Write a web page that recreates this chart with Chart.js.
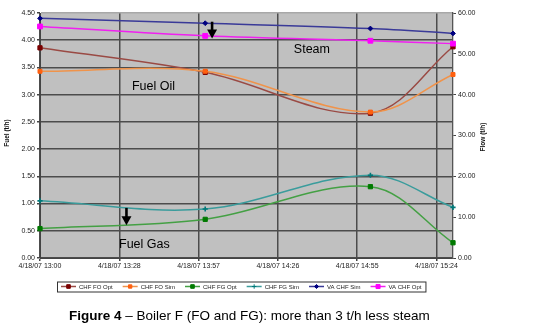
<!DOCTYPE html>
<html>
<head>
<meta charset="utf-8">
<script src="https://cdn.jsdelivr.net/npm/chart.js@4.4.1/dist/chart.umd.min.js"></script>
<style>
    html, body { margin: 0; padding: 0; background: #ffffff; }
    #chart-box { position: relative; width: 538px; height: 336px; }
</style>
</head>
<body>
<div id="chart-box">
    <canvas id="boilerChart" width="538" height="336"></canvas>
</div>
<script>
// ::::: Data read from the figure :::::
// x values are minutes after 4/18/07 13:00
const sampleMinutes = [0, 60, 120, 150];
const tickMinutes = [0, 28.8, 57.6, 86.4, 115.2, 144];
const tickLabels = ['4/18/07 13:00', '4/18/07 13:28', '4/18/07 13:57', '4/18/07 14:26', '4/18/07 14:55', '4/18/07 15:24'];
const seriesNames = ['CHF FO Opt', 'CHF FO Sim', 'CHF FG Opt', 'CHF FG Sim', 'VA CHF Sim', 'VA CHF Opt'];

// fuel (t/h), left axis
const chfFoOpt = [3.86, 3.41, 2.66, 3.88];
const chfFoSim = [3.43, 3.43, 2.68, 3.37];
const chfFgOpt = [0.54, 0.71, 1.31, 0.28];
const chfFgSim = [1.05, 0.90, 1.52, 0.93];
// steam flow (t/h), right axis
const vaChfSim = [58.7, 57.5, 56.2, 55.0];
const vaChfOpt = [56.7, 54.4, 53.2, 52.5];

const fuelMax = 4.5;
const flowMax = 60;

// ::::: Look of each series :::::
const seriesStyles = [
    { line: '#9a4a44', marker: '#7a0000', shape: 'rect', radius: 3, axis: 'y' },
    { line: '#f0934a', marker: '#ff6010', shape: 'rect', radius: 2.8, axis: 'y' },
    { line: '#44a044', marker: '#007a00', shape: 'rect', radius: 3, axis: 'y' },
    { line: '#3a9c9c', marker: '#007878', shape: 'cross', radius: 2.6, axis: 'y' },
    { line: '#3a3a98', marker: '#000080', shape: 'rectRot', radius: 2.4, axis: 'y1' },
    { line: '#f020f0', marker: '#ff00ff', shape: 'rect', radius: 3.4, axis: 'y1' }
];
const seriesValues = [chfFoOpt, chfFoSim, chfFgOpt, chfFgSim, vaChfSim, vaChfOpt];

// text and arrows placed in data coordinates
const labelNotes = [
    { text: 'Fuel Oil', minute: 33.4, value: 3.09, axis: 'y' },
    { text: 'Steam', minute: 92.2, value: 3.77, axis: 'y' },
    { text: 'Fuel Gas', minute: 28.7, value: 0.18, axis: 'y' }
];
const arrowNotes = [
    { minute: 62.5, from: 4.34, to: 4.03 },
    { minute: 31.4, from: 0.92, to: 0.60 }
];

function toPoints(values) {
    return values.map((v, i) => ({ x: sampleMinutes[i], y: v }));
}

const datasets = seriesValues.map((values, i) => {
    const s = seriesStyles[i];
    return {
        label: seriesNames[i],
        data: toPoints(values),
        yAxisID: s.axis,
        borderColor: s.line,
        borderWidth: 1.5,
        backgroundColor: s.marker,
        pointBackgroundColor: s.marker,
        pointBorderColor: s.marker,
        pointBorderWidth: s.shape === 'cross' ? 1.6 : 1,
        pointStyle: s.shape,
        pointRadius: s.radius,
        tension: 0.35,
        clip: false,
        order: seriesValues.length - i
    };
});

// ::::: Plot background :::::
const plotBackground = {
    id: 'plotBackground',
    beforeDraw(chart) {
        const a = chart.chartArea;
        const ctx = chart.ctx;
        ctx.save();
        ctx.fillStyle = '#c0c0c0';
        ctx.fillRect(a.left, a.top, a.right - a.left, a.bottom - a.top);
        ctx.restore();
    }
};

// ::::: Titles, notes, arrows, legend and caption :::::
const extras = {
    id: 'extras',
    afterDraw(chart) {
        const ctx = chart.ctx;
        const xs = chart.scales.x;
        ctx.save();

        // axis titles
        ctx.fillStyle = '#111';
        ctx.textAlign = 'center';
        ctx.textBaseline = 'middle';
        ctx.font = 'bold 6.5px "Liberation Sans", Arial, sans-serif';
        ctx.save();
        ctx.translate(7, 133);
        ctx.rotate(-Math.PI / 2);
        ctx.fillText('Fuel (t/h)', 0, 0);
        ctx.restore();
        ctx.save();
        ctx.translate(483, 137);
        ctx.rotate(-Math.PI / 2);
        ctx.fillText('Flow (t/h)', 0, 0);
        ctx.restore();

        // notes
        ctx.textAlign = 'left';
        ctx.textBaseline = 'alphabetic';
        ctx.font = '12.5px "Liberation Sans", Arial, sans-serif';
        ctx.fillStyle = '#000';
        labelNotes.forEach(n => {
            ctx.fillText(n.text, xs.getPixelForValue(n.minute), chart.scales[n.axis].getPixelForValue(n.value));
        });

        // arrows
        arrowNotes.forEach(n => {
            const x = xs.getPixelForValue(n.minute);
            const y0 = chart.scales.y.getPixelForValue(n.from);
            const y1 = chart.scales.y.getPixelForValue(n.to);
            const head = 9;
            ctx.strokeStyle = '#000';
            ctx.lineWidth = 2.6;
            ctx.beginPath();
            ctx.moveTo(x, y0);
            ctx.lineTo(x, y1 - head + 1);
            ctx.stroke();
            ctx.beginPath();
            ctx.moveTo(x - 5, y1 - head);
            ctx.lineTo(x + 5, y1 - head);
            ctx.lineTo(x, y1);
            ctx.closePath();
            ctx.fillStyle = '#000';
            ctx.fill();
        });

        // legend
        ctx.font = '6px "Liberation Sans", Arial, sans-serif';
        ctx.textBaseline = 'middle';
        const legendLeft = 57, legendTop = 281.5, legendHeight = 10;
        const cy = legendTop + legendHeight / 2;
        let cx = legendLeft + 4;
        chart.data.datasets.forEach((ds, i) => {
            const s = seriesStyles[i];
            ctx.strokeStyle = s.line;
            ctx.lineWidth = 1.5;
            ctx.beginPath();
            ctx.moveTo(cx, cy);
            ctx.lineTo(cx + 15, cy);
            ctx.stroke();
            ctx.fillStyle = s.marker;
            ctx.strokeStyle = s.marker;
            ctx.lineWidth = 1;
            Chart.helpers.drawPoint(ctx, { pointStyle: s.shape, radius: s.radius * 0.85, rotation: 0, borderWidth: 1 }, cx + 7.5, cy);
            ctx.fillStyle = '#222';
            ctx.fillText(ds.label, cx + 18, cy + 0.5);
            cx += 18 + ctx.measureText(ds.label).width + 10;
        });
        ctx.strokeStyle = '#333';
        ctx.lineWidth = 1;
        ctx.strokeRect(legendLeft + 0.5, legendTop + 0.5, cx - 6 - legendLeft, legendHeight);

        // caption
        ctx.textBaseline = 'alphabetic';
        ctx.fillStyle = '#000';
        const boldPart = 'Figure 4';
        const restPart = ' \u2013 Boiler F (FO and FG): more than 3 t/h less steam';
        ctx.font = 'bold 13.5px "Liberation Sans", Arial, sans-serif';
        const bw = ctx.measureText(boldPart).width;
        ctx.fillText(boldPart, 69, 320);
        ctx.font = '13.5px "Liberation Sans", Arial, sans-serif';
        ctx.fillText(restPart, 69 + bw, 320);

        ctx.restore();
    }
};

const tickFont = { family: '"Liberation Sans", Arial, sans-serif', size: 7 };

var ctx = document.getElementById('boilerChart');
var boilerChart = new Chart(ctx, {
    type: 'line',
    data: { datasets: datasets },
    options: {
        responsive: false,
        animation: false,
        layout: { padding: { left: 0, top: 13, right: 0, bottom: 0 } },
        scales: {
            x: {
                type: 'linear',
                min: 0,
                max: 150,
                afterBuildTicks: (scale) => {
                    scale.ticks = tickMinutes.map(v => ({ value: v }));
                },
                afterFit: (scale) => { scale.height = 78; },
                ticks: {
                    autoSkip: false,
                    maxRotation: 0,
                    minRotation: 0,
                    padding: 1,
                    color: '#222',
                    font: tickFont,
                    callback: (value, index) => tickLabels[index]
                },
                grid: { color: '#4c4c4c', lineWidth: 1.5, tickLength: 3, tickColor: '#444' },
                border: { color: '#444', width: 1 }
            },
            y: {
                position: 'left',
                min: 0,
                max: fuelMax,
                afterFit: (scale) => { scale.width = 40; },
                ticks: {
                    stepSize: 0.5,
                    padding: 2,
                    color: '#222',
                    font: tickFont,
                    callback: (value) => value.toFixed(2)
                },
                grid: {
                    color: (c) => c.tick && c.tick.value === fuelMax ? '#a8a8a8' : '#4c4c4c',
                    lineWidth: 1.5,
                    tickLength: 3,
                    tickColor: '#444'
                },
                border: { color: '#444', width: 1 }
            },
            y1: {
                position: 'right',
                min: 0,
                max: flowMax,
                afterFit: (scale) => { scale.width = 85; },
                ticks: {
                    stepSize: 10,
                    padding: 2,
                    color: '#222',
                    font: tickFont,
                    callback: (value) => value.toFixed(2)
                },
                grid: { drawOnChartArea: false, tickLength: 3, tickColor: '#444' },
                border: { color: '#555', width: 1.3 }
            }
        },
        plugins: {
            legend: { display: false },
            tooltip: { enabled: false }
        }
    },
    plugins: [plotBackground, extras]
});
</script>
</body>
</html>
